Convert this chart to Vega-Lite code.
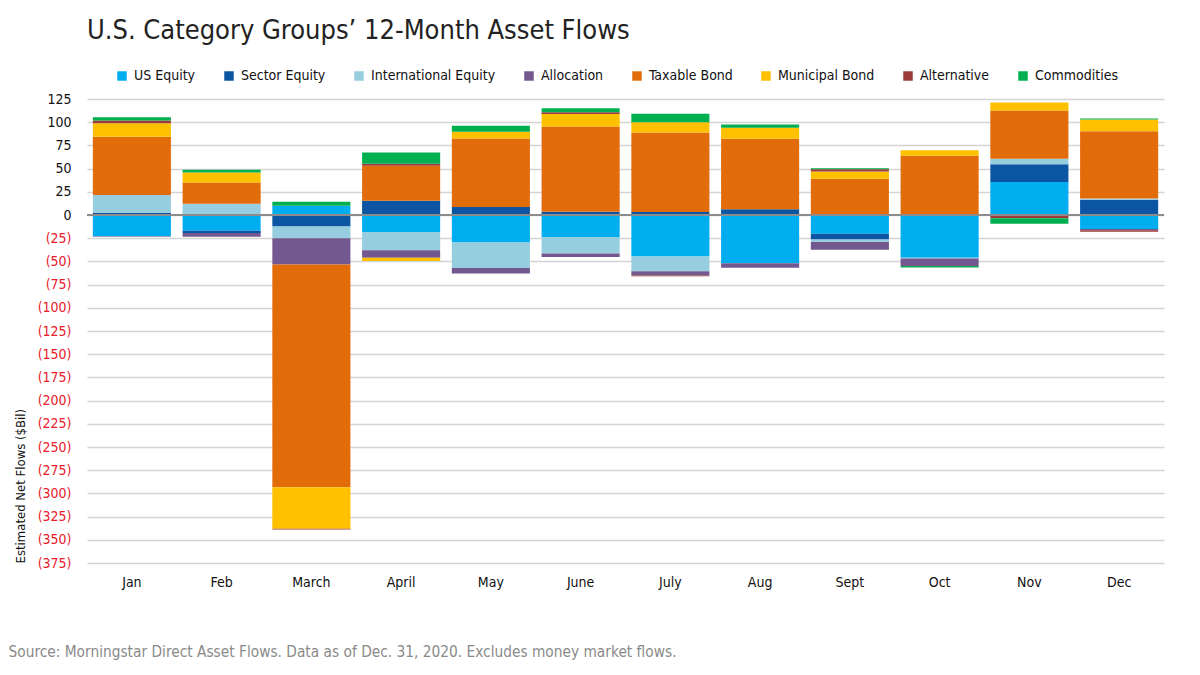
{
  "$schema": "https://vega.github.io/schema/vega-lite/v6.json",
  "width": 1077,
  "height": 464,
  "autosize": {"type": "none"},
  "padding": {"left": 87, "top": 99, "right": 36, "bottom": 112},
  "background": "white",
  "title": {
    "text": "U.S. Category Groups’ 12-Month Asset Flows",
    "anchor": "start",
    "frame": "group",
    "font": "DejaVu Sans Condensed, sans-serif",
    "fontSize": 27,
    "fontWeight": "normal",
    "color": "#222222",
    "offset": 24
  },
  "config": {
    "view": {"stroke": null},
    "font": "DejaVu Sans Condensed, sans-serif"
  },
  "data": {
    "values": [
      {"month": "Jan", "category": "US Equity", "value": -23},
      {"month": "Jan", "category": "Sector Equity", "value": 2.5},
      {"month": "Jan", "category": "International Equity", "value": 19},
      {"month": "Jan", "category": "Allocation", "value": -0.5},
      {"month": "Jan", "category": "Taxable Bond", "value": 62.7},
      {"month": "Jan", "category": "Municipal Bond", "value": 14.7},
      {"month": "Jan", "category": "Alternative", "value": 2.9},
      {"month": "Jan", "category": "Commodities", "value": 3.6},

      {"month": "Feb", "category": "US Equity", "value": -17},
      {"month": "Feb", "category": "Sector Equity", "value": -2.5},
      {"month": "Feb", "category": "International Equity", "value": 12.2},
      {"month": "Feb", "category": "Allocation", "value": -4},
      {"month": "Feb", "category": "Taxable Bond", "value": 22.9},
      {"month": "Feb", "category": "Municipal Bond", "value": 10.8},
      {"month": "Feb", "category": "Alternative", "value": 0},
      {"month": "Feb", "category": "Commodities", "value": 2.8},

      {"month": "March", "category": "US Equity", "value": 10},
      {"month": "March", "category": "Sector Equity", "value": -12.5},
      {"month": "March", "category": "International Equity", "value": -12.6},
      {"month": "March", "category": "Allocation", "value": -28.3},
      {"month": "March", "category": "Taxable Bond", "value": -239.9},
      {"month": "March", "category": "Municipal Bond", "value": -44.8},
      {"month": "March", "category": "Alternative", "value": -0.8},
      {"month": "March", "category": "Commodities", "value": 4.3},

      {"month": "April", "category": "US Equity", "value": -18.3},
      {"month": "April", "category": "Sector Equity", "value": 15.4},
      {"month": "April", "category": "International Equity", "value": -19.7},
      {"month": "April", "category": "Allocation", "value": -8.2},
      {"month": "April", "category": "Taxable Bond", "value": 37.6},
      {"month": "April", "category": "Municipal Bond", "value": -3.5},
      {"month": "April", "category": "Alternative", "value": 2.2},
      {"month": "April", "category": "Commodities", "value": 12.2},

      {"month": "May", "category": "US Equity", "value": -29.7},
      {"month": "May", "category": "Sector Equity", "value": 8.6},
      {"month": "May", "category": "International Equity", "value": -27.3},
      {"month": "May", "category": "Allocation", "value": -6.1},
      {"month": "May", "category": "Taxable Bond", "value": 73.8},
      {"month": "May", "category": "Municipal Bond", "value": 7.2},
      {"month": "May", "category": "Alternative", "value": 0},
      {"month": "May", "category": "Commodities", "value": 6.5},

      {"month": "June", "category": "US Equity", "value": -23.7},
      {"month": "June", "category": "Sector Equity", "value": 3.6},
      {"month": "June", "category": "International Equity", "value": -17.9},
      {"month": "June", "category": "Allocation", "value": -3.6},
      {"month": "June", "category": "Taxable Bond", "value": 91.7},
      {"month": "June", "category": "Municipal Bond", "value": 13.6},
      {"month": "June", "category": "Alternative", "value": 1.8},
      {"month": "June", "category": "Commodities", "value": 4.3},

      {"month": "July", "category": "US Equity", "value": -44.8},
      {"month": "July", "category": "Sector Equity", "value": 3.2},
      {"month": "July", "category": "International Equity", "value": -15.8},
      {"month": "July", "category": "Allocation", "value": -4.7},
      {"month": "July", "category": "Taxable Bond", "value": 85.7},
      {"month": "July", "category": "Municipal Bond", "value": 11.1},
      {"month": "July", "category": "Alternative", "value": -0.7},
      {"month": "July", "category": "Commodities", "value": 9.0},

      {"month": "Aug", "category": "US Equity", "value": -52.0},
      {"month": "Aug", "category": "Sector Equity", "value": 6.1},
      {"month": "Aug", "category": "International Equity", "value": 0},
      {"month": "Aug", "category": "Allocation", "value": -4.8},
      {"month": "Aug", "category": "Taxable Bond", "value": 76.0},
      {"month": "Aug", "category": "Municipal Bond", "value": 11.8},
      {"month": "Aug", "category": "Alternative", "value": 0},
      {"month": "Aug", "category": "Commodities", "value": 3.6},

      {"month": "Sept", "category": "US Equity", "value": -20.1},
      {"month": "Sept", "category": "Sector Equity", "value": -6.4},
      {"month": "Sept", "category": "International Equity", "value": -2.5},
      {"month": "Sept", "category": "Allocation", "value": -8.5},
      {"month": "Sept", "category": "Taxable Bond", "value": 39.0},
      {"month": "Sept", "category": "Municipal Bond", "value": 7.8},
      {"month": "Sept", "category": "Alternative", "value": 2.6},
      {"month": "Sept", "category": "Commodities", "value": 1.1},

      {"month": "Oct", "category": "US Equity", "value": -46.2},
      {"month": "Oct", "category": "Sector Equity", "value": 1.1},
      {"month": "Oct", "category": "International Equity", "value": -0.8},
      {"month": "Oct", "category": "Allocation", "value": -8.0},
      {"month": "Oct", "category": "Taxable Bond", "value": 62.7},
      {"month": "Oct", "category": "Municipal Bond", "value": 6.1},
      {"month": "Oct", "category": "Alternative", "value": 0},
      {"month": "Oct", "category": "Commodities", "value": -1.5},

      {"month": "Nov", "category": "US Equity", "value": 35.5},
      {"month": "Nov", "category": "Sector Equity", "value": 19.3},
      {"month": "Nov", "category": "International Equity", "value": 5.8},
      {"month": "Nov", "category": "Allocation", "value": -0.5},
      {"month": "Nov", "category": "Taxable Bond", "value": 51.9},
      {"month": "Nov", "category": "Municipal Bond", "value": 8.6},
      {"month": "Nov", "category": "Alternative", "value": -3.0},
      {"month": "Nov", "category": "Commodities", "value": -5.8},

      {"month": "Dec", "category": "US Equity", "value": -15.0},
      {"month": "Dec", "category": "Sector Equity", "value": 16.5},
      {"month": "Dec", "category": "International Equity", "value": 1.4},
      {"month": "Dec", "category": "Allocation", "value": -1.5},
      {"month": "Dec", "category": "Taxable Bond", "value": 72.4},
      {"month": "Dec", "category": "Municipal Bond", "value": 12.6},
      {"month": "Dec", "category": "Alternative", "value": -1.5},
      {"month": "Dec", "category": "Commodities", "value": 1.0}
    ]
  },
  "transform": [
    {"calculate": "indexof(['US Equity', 'Sector Equity', 'International Equity', 'Allocation', 'Taxable Bond', 'Municipal Bond', 'Alternative', 'Commodities'], datum.category)", "as": "stackOrder"}
  ],
  "resolve": {"axis": {"y": "independent"}},
  "layer": [
    {
      "mark": {"type": "bar"},
      "encoding": {
        "x": {
          "field": "month",
          "type": "nominal",
          "sort": ["Jan", "Feb", "March", "April", "May", "June", "July", "Aug", "Sept", "Oct", "Nov", "Dec"],
          "scale": {"paddingInner": 0.13, "paddingOuter": 0.065},
          "axis": {
            "labelAngle": 0,
            "labelFontSize": 14,
            "labelColor": "#111111",
            "labelPadding": 12,
            "ticks": false,
            "domain": false,
            "grid": false,
            "title": "Source: Morningstar Direct Asset Flows. Data as of Dec. 31, 2020. Excludes money market flows.",
            "titleX": -79,
            "titleY": 93,
            "titleAlign": "left",
            "titleBaseline": "alphabetic",
            "titleFontSize": 15.3,
            "titleFontWeight": "normal",
            "titleColor": "#8a8a8a"
          }
        },
        "y": {
          "field": "value",
          "type": "quantitative",
          "stack": "zero",
          "scale": {"domain": [-375, 125], "nice": false},
          "axis": {
            "values": [-375, -350, -325, -300, -275, -250, -225, -200, -175, -150, -125, -100, -75, -50, -25, 0, 25, 50, 75, 100, 125],
            "labelExpr": "datum.value < 0 ? '(' + format(-datum.value, 'd') + ')' : format(datum.value, 'd')",
            "labelColor": {"condition": {"test": "datum.value < 0", "value": "#e8202a"}, "value": "#111111"},
            "labelFontSize": 14,
            "labelPadding": 16,
            "labelOverlap": false,
            "ticks": false,
            "domain": false,
            "gridColor": "#d4d4d4",
            "gridWidth": 1.5,
            "title": "Estimated Net Flows ($Bil)",
            "titleX": -67,
            "titleY": 464,
            "titleAngle": -90,
            "titleAlign": "left",
            "titleBaseline": "middle",
            "titleFontSize": 13,
            "titleFontWeight": "normal",
            "titleColor": "#111111"
          }
        },
        "color": {
          "field": "category",
          "type": "nominal",
          "sort": ["US Equity", "Sector Equity", "International Equity", "Allocation", "Taxable Bond", "Municipal Bond", "Alternative", "Commodities"],
          "scale": {
            "domain": ["US Equity", "Sector Equity", "International Equity", "Allocation", "Taxable Bond", "Municipal Bond", "Alternative", "Commodities"],
            "range": ["#00aeef", "#0b55a3", "#96cddf", "#72588f", "#e36c0a", "#ffc000", "#9b3a38", "#00b050"]
          },
          "legend": {
            "orient": "none",
            "legendX": 28,
            "legendY": -30,
            "direction": "horizontal",
            "title": null,
            "symbolType": "square",
            "symbolSize": 90,
            "symbolStrokeWidth": 0,
            "labelFontSize": 14,
            "labelColor": "#111111",
            "labelOffset": 5,
            "columnPadding": 26
          }
        },
        "order": {"field": "stackOrder", "type": "quantitative", "sort": "ascending"}
      }
    },
    {
      "mark": {"type": "rule", "color": "#8c8c8c", "strokeWidth": 1.5},
      "encoding": {"y": {"datum": 0, "axis": null}}
    }
  ]
}
